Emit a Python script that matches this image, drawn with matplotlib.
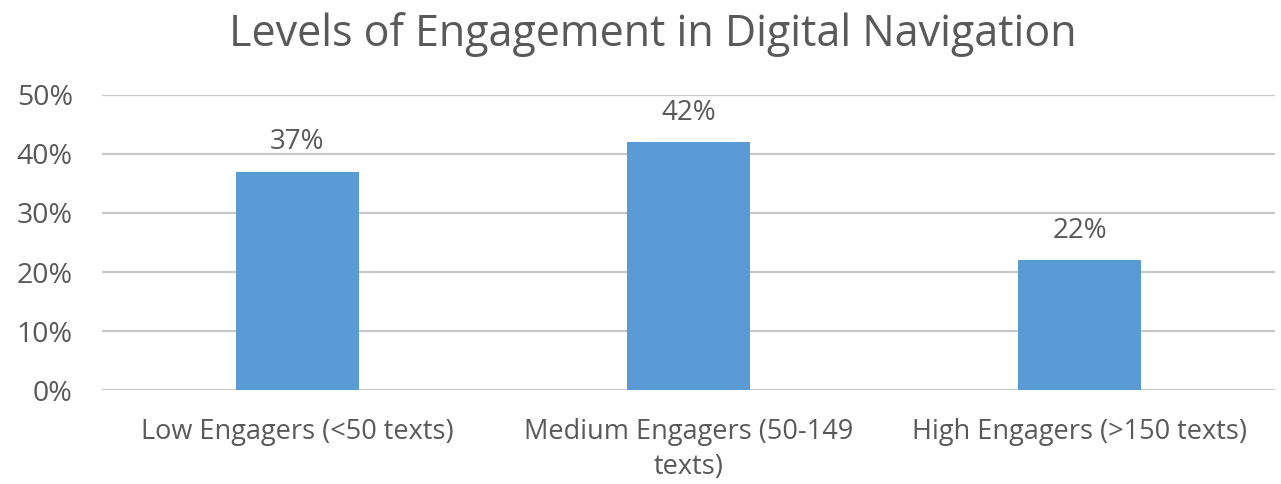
import matplotlib.pyplot as plt
from matplotlib.ticker import PercentFormatter

categories = ['Low Engagers (<50 texts)', 'Medium Engagers (50-149\ntexts)',
              'High Engagers (>150 texts)']
values = [37, 42, 22]
y_ticks = [0, 10, 20, 30, 40, 50]

plt.rcParams['font.family'] = ['Open Sans', 'DejaVu Sans']
text_col = '#595959'

fig = plt.figure(figsize=(12.81, 4.84), dpi=100)
ax = fig.add_axes([0.0796, 0.194, 0.916, 0.610])

bars = ax.bar(range(len(values)), values, width=0.315, color='#5B9BD5', zorder=3)
for b, v in zip(bars, values):
    ax.annotate(f'{v}%', (b.get_x() + b.get_width() / 2, v), xytext=(0, 11),
                textcoords='offset points', ha='center', va='bottom',
                fontsize=20, color=text_col)

ax.set_xlim(-0.5, 2.5)
ax.set_ylim(0, 50)
ax.set_yticks(y_ticks)
ax.yaxis.set_major_formatter(PercentFormatter(decimals=0))
ax.set_xticks(range(len(categories)))
ax.set_xticklabels(categories, fontsize=19.5, color=text_col, linespacing=1.35)
ax.tick_params(axis='y', labelsize=20.5, labelcolor=text_col, length=0, pad=21)
ax.tick_params(axis='x', length=0, pad=20)
ax.grid(axis='y', color='#C8C8C8', lw=1.6, zorder=0)
for s in ax.spines.values():
    s.set_visible(False)

fig.suptitle('Levels of Engagement in Digital Navigation', x=0.51, y=0.975,
             fontsize=31, color=text_col)

fig.savefig('out.png', dpi=100)
